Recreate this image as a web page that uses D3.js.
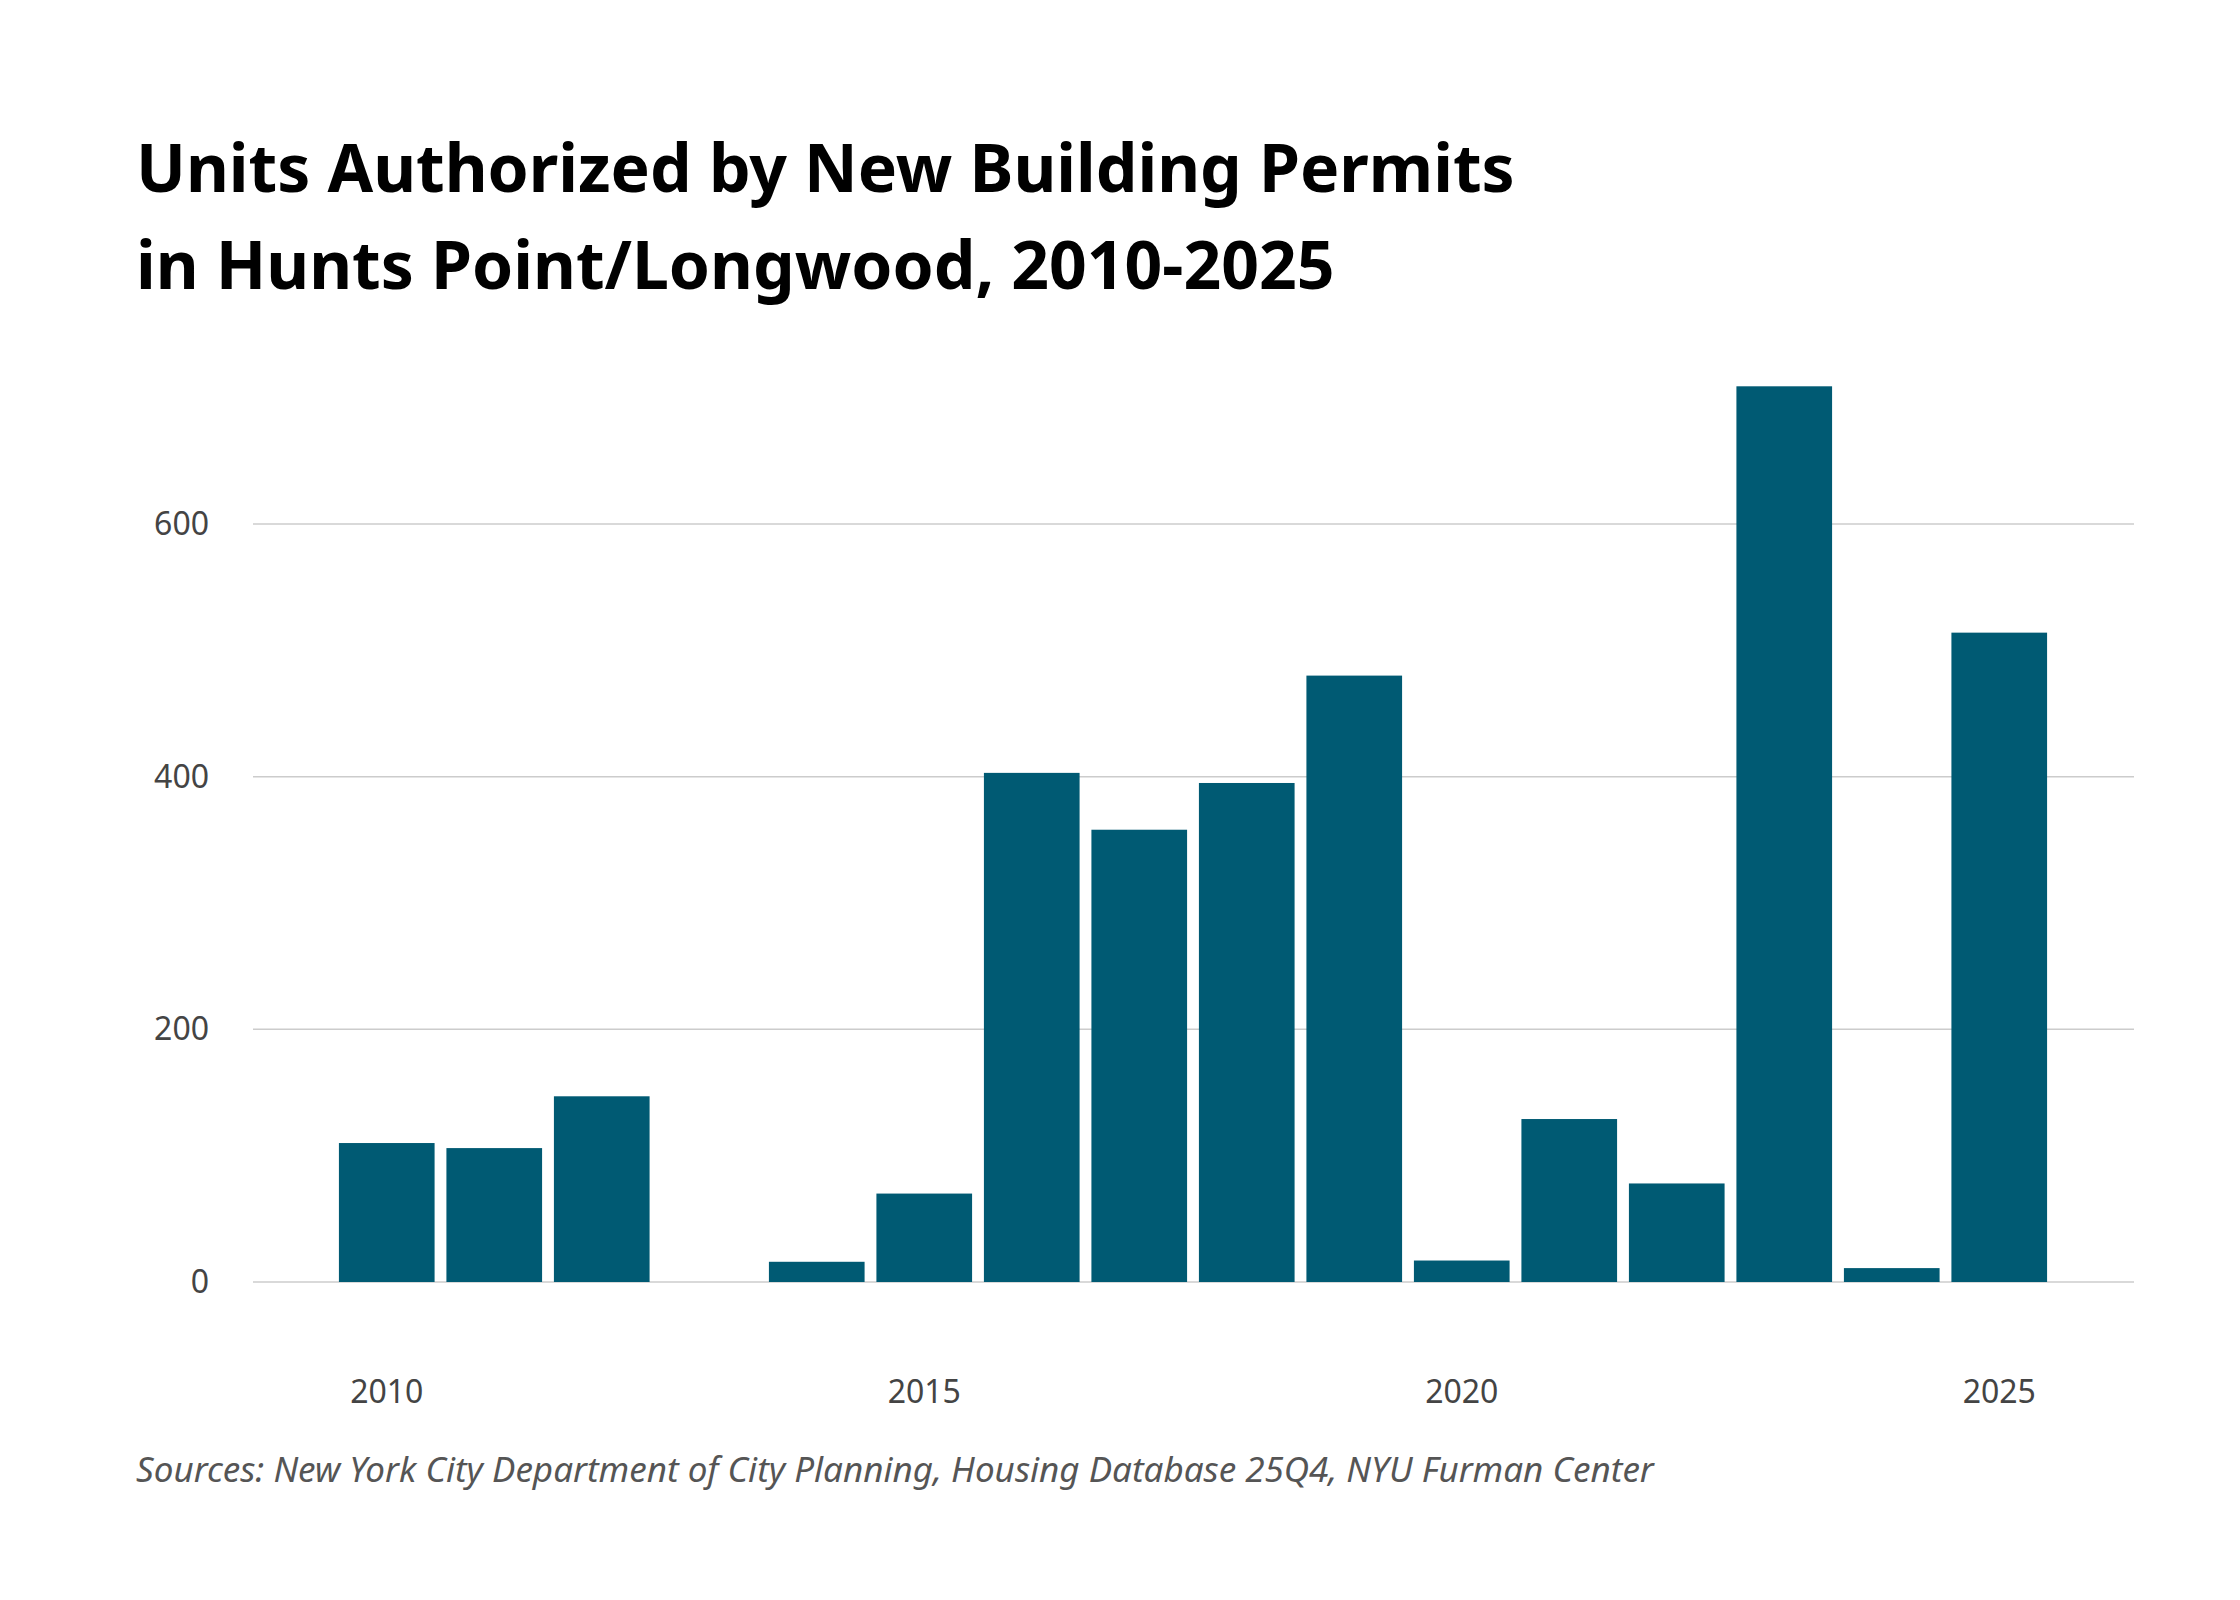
<!DOCTYPE html>
<html><head><meta charset="utf-8">
<script src="https://cdn.jsdelivr.net/npm/d3@7"></script>
<style>body{margin:0;background:#fff}</style></head>
<body><svg id="c" width="2240" height="1600"></svg>
<script>
const years = [2010,2011,2012,2013,2014,2015,2016,2017,2018,2019,2020,2021,2022,2023,2024,2025];
const units = [110,106,147,0,16,70,403,358,395,480,17,129,78,709,11,514];
const yTicks = [0,200,400,600];
const xTickYears = [2010,2015,2020,2025];
const titleLines = ["Units Authorized by New Building Permits","in Hunts Point/Longwood, 2010-2025"];
const source = "Sources: New York City Department of City Planning, Housing Database 25Q4, NYU Furman Center";

const svg = d3.select("#c");
const font = "'Noto Sans', 'Open Sans', sans-serif";
const x = d3.scaleBand().domain(years).range([333,2053]).paddingInner(0.11).paddingOuter(0.055);
const y = d3.scaleLinear().domain([0,600]).range([1282,524]);

svg.append("g").selectAll("line").data(yTicks).join("line")
  .attr("x1",253).attr("x2",2134).attr("y1",d=>y(d)).attr("y2",d=>y(d))
  .attr("stroke","#cccccc").attr("stroke-width",1.5);
svg.append("g").selectAll("text").data(yTicks).join("text")
  .attr("x",209).attr("y",d=>y(d)+11).attr("text-anchor","end")
  .attr("font-family",font).attr("font-size",32).attr("fill","#444").text(d=>d);

svg.append("g").selectAll("rect").data(years).join("rect")
  .attr("x",d=>x(d)).attr("width",x.bandwidth())
  .attr("y",(d,i)=>y(units[i])).attr("height",(d,i)=>y(0)-y(units[i]))
  .attr("fill","#005a73");

svg.append("g").selectAll("text").data(xTickYears).join("text")
  .attr("x",d=>x(d)+x.bandwidth()/2).attr("y",1403).attr("text-anchor","middle")
  .attr("font-family",font).attr("font-size",32).attr("fill","#444").text(d=>d);

svg.append("g").selectAll("text").data(titleLines).join("text")
  .attr("x",136).attr("y",(d,i)=>192+i*97)
  .attr("font-family",font).attr("font-weight","bold").attr("font-size",66).attr("fill","#000").text(d=>d);

svg.append("text").attr("x",136).attr("y",1482).attr("font-family",font).attr("font-style","italic")
  .attr("font-size",35).attr("fill","#555").text(source);
</script></body></html>
